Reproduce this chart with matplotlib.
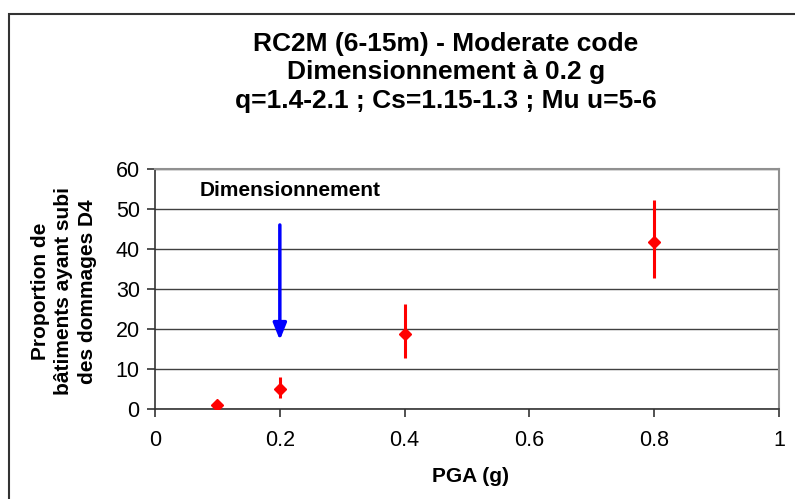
import numpy as np
import matplotlib.pyplot as plt
from matplotlib.patches import Rectangle

# PGA (g) and proportion of buildings with D4 damage
pga = [0.1, 0.2, 0.4, 0.8]
proportion = [1.0, 5.0, 18.8, 41.8]
err_low = [0.6, 2.2, 6.0, 9.0]
err_high = [0.6, 3.0, 7.4, 10.4]

# design level arrow
design_pga = 0.2
arrow_top = 46.0
arrow_tip = 17.2

plt.rcParams['font.family'] = ['Liberation Sans', 'DejaVu Sans']

fig = plt.figure(figsize=(7.95, 4.99), dpi=100)
ax = fig.add_axes([0.195, 0.1804, 0.785, 0.481])

# outer chart frame (cut at right/bottom like the reference)
fig.patches.append(Rectangle((9 / 795, -0.1), 1.2, 1 - 14 / 499 + 0.1,
                             transform=fig.transFigure, fill=False,
                             edgecolor='#333333', lw=1.5))

ax.errorbar(pga, proportion, yerr=[err_low, err_high], fmt='D', color='red',
            ms=6.5, elinewidth=2.2, capsize=0, zorder=4)

ax.annotate('', xy=(design_pga, arrow_tip), xytext=(design_pga, arrow_top),
            arrowprops=dict(arrowstyle='-|>,head_width=0.4,head_length=1.0',
                            color='#0000ff', lw=2.5, shrinkA=0, shrinkB=0),
            zorder=3)

ax.text(0.072, 54.5, 'Dimensionnement', fontsize=15, fontweight='bold',
        va='center', ha='left')

ax.set_xlim(0, 1)
ax.set_ylim(0, 60)
ax.set_xticks([0, 0.2, 0.4, 0.6, 0.8, 1])
ax.set_xticklabels(['0', '0.2', '0.4', '0.6', '0.8', '1'])
ax.set_yticks(range(0, 61, 10))
ax.yaxis.grid(True, color='#404040', lw=1)
ax.set_axisbelow(True)

for s in ['top', 'right']:
    ax.spines[s].set_color('#909090')
    ax.spines[s].set_linewidth(1.5)
for s in ['left', 'bottom']:
    ax.spines[s].set_color('#333333')
    ax.spines[s].set_linewidth(1.2)

ax.tick_params(axis='both', labelsize=15.5, direction='out', length=6,
               width=1.2, color='#333333')
ax.tick_params(axis='x', pad=9)
ax.tick_params(axis='y', pad=5)

ax.set_xlabel('PGA (g)', fontsize=15, fontweight='bold')
ax.xaxis.set_label_coords(0.505, -0.283)
ax.xaxis.label.set_va('center')
ax.set_ylabel('Proportion de\nbâtiments ayant subi\ndes dommages D4',
              fontsize=15, fontweight='bold', linespacing=1.3)
ax.yaxis.set_label_coords(-0.146, 0.49)
ax.yaxis.label.set_va('center')

fig.text(0.561, 1 - 72.5 / 499,
         'RC2M (6-15m) - Moderate code\nDimensionnement à 0.2 g\nq=1.4-2.1 ; Cs=1.15-1.3 ; Mu u=5-6',
         ha='center', va='center', fontsize=19, fontweight='bold',
         linespacing=1.22)

fig.savefig('out.png', dpi=100)
